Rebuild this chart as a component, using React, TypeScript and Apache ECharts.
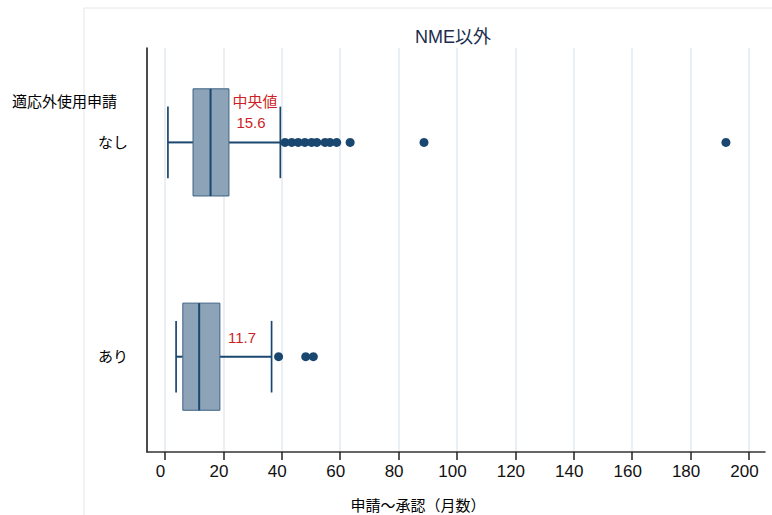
import React, { useEffect, useRef } from "react";
import * as echarts from "echarts";

const categories = ["あり", "なし"];
const lowWhisker = [3.8, 1.0];
const q1 = [6.1, 9.6];
const medians = [11.7, 15.6];
const q3 = [18.8, 21.9];
const highWhisker = [36.5, 39.5];
const outliersNashi = [41.1, 43.4, 45.6, 47.9, 50.2, 52.0, 54.8, 56.5, 58.8, 63.4, 88.7, 192.1];
const outliersAri = [38.9, 48.2, 50.8];

const NAVY = "#1a476f";
const FILL = "#8da3b8";
const RED = "#cc1f27";
const FONT = "'Liberation Sans', Arial, 'Noto Sans CJK JP', sans-serif";

export default function App() {
  const ref = useRef<HTMLDivElement>(null);
  useEffect(() => {
    document.body.style.margin = "0";
    const chart = echarts.init(ref.current!, null, { renderer: "svg" });
    const boxData = categories.map((_, i) => [i, lowWhisker[i], q1[i], medians[i], q3[i], highWhisker[i]]);
    const outlierData = [
      ...outliersAri.map((v) => [v, 0]),
      ...outliersNashi.map((v) => [v, 1]),
    ];
    chart.setOption({
      animation: false,
      textStyle: { fontFamily: FONT },
      grid: [
        { left: 165, right: 23, top: 48, bottom: 63 },
        { left: 147, right: 7, top: 35.25, bottom: 51.15 },
        { left: 147, right: 7, top: 48, bottom: 63 },
      ],
      xAxis: [
        {
          gridIndex: 0,
          type: "value",
          min: 0,
          max: 200,
          interval: 20,
          axisLine: { show: false, onZero: false },
          axisTick: { show: true, length: 8, lineStyle: { color: "#222", width: 1.5 } },
          axisLabel: { fontSize: 17, color: "#111", margin: 11, padding: [0, 9, 0, 0], fontFamily: FONT },
          splitLine: { show: true, lineStyle: { color: "#e3eaf0", width: 1.5 } },
        },
        { gridIndex: 1, type: "value", show: false, min: 0, max: 1 },
        {
          gridIndex: 2,
          type: "value",
          min: 0,
          max: 1,
          axisLine: { show: true, onZero: false, lineStyle: { color: "#333", width: 1.5 } },
          axisTick: { show: false },
          axisLabel: { show: false },
          splitLine: { show: false },
        },
      ],
      yAxis: [
        { gridIndex: 0, type: "value", min: -0.4447, max: 1.4405, show: false },
        {
          gridIndex: 1,
          type: "category",
          data: categories,
          axisLine: { show: false },
          axisTick: { show: false },
          axisLabel: { margin: 19, fontSize: 15, color: "#000", fontFamily: FONT },
          splitLine: { show: false },
        },
        {
          gridIndex: 2,
          type: "value",
          min: 0,
          max: 1,
          axisLine: { show: true, onZero: false, lineStyle: { color: "#111", width: 1.5 } },
          axisTick: { show: false },
          axisLabel: { show: false },
          splitLine: { show: false },
        },
      ],
      graphic: [
        {
          type: "rect",
          silent: true,
          shape: { x: 84, y: 8, width: 720, height: 540 },
          style: { fill: "none", stroke: "#e6e6e6", lineWidth: 1 },
          z: -10,
        },
        {
          type: "text",
          x: 453,
          y: 37,
          style: { text: "NME以外", fontSize: 18, fill: "#1c2d4d", align: "center", verticalAlign: "middle", fontFamily: FONT },
        },
        {
          type: "text",
          x: 12,
          y: 101,
          style: { text: "適応外使用申請", fontSize: 15, fill: "#000", align: "left", verticalAlign: "middle", fontFamily: FONT },
        },
        {
          type: "text",
          x: 418,
          y: 505,
          style: { text: "申請～承認（月数）", fontSize: 15, fill: "#000", align: "center", verticalAlign: "middle", fontFamily: FONT },
        },
        {
          type: "text",
          x: 255,
          y: 101,
          style: { text: "中央値", fontSize: 15, fill: RED, align: "center", verticalAlign: "middle", fontFamily: FONT },
        },
        {
          type: "text",
          x: 251,
          y: 122,
          style: { text: String(medians[1]), fontSize: 15, fill: RED, align: "center", verticalAlign: "middle", fontFamily: FONT },
        },
        {
          type: "text",
          x: 242,
          y: 337,
          style: { text: String(medians[0]), fontSize: 15, fill: RED, align: "center", verticalAlign: "middle", fontFamily: FONT },
        },
      ],
      series: [
        {
          type: "custom",
          xAxisIndex: 0,
          yAxisIndex: 0,
          data: boxData,
          renderItem: (params: any, api: any) => {
            const c = api.value(0);
            const lo = api.coord([api.value(1), c]);
            const a = api.coord([api.value(2), c]);
            const m = api.coord([api.value(3), c]);
            const b = api.coord([api.value(4), c]);
            const hi = api.coord([api.value(5), c]);
            const unit = Math.abs(api.coord([0, c + 1])[1] - lo[1]);
            const bh = unit * 0.25;
            const ch = unit * 0.167;
            const y = lo[1];
            return {
              type: "group",
              children: [
                { type: "line", shape: { x1: lo[0], y1: y, x2: a[0], y2: y }, style: { stroke: NAVY, lineWidth: 2 } },
                { type: "line", shape: { x1: b[0], y1: y, x2: hi[0], y2: y }, style: { stroke: NAVY, lineWidth: 2 } },
                { type: "line", shape: { x1: lo[0], y1: y - ch, x2: lo[0], y2: y + ch }, style: { stroke: NAVY, lineWidth: 1.7 } },
                { type: "line", shape: { x1: hi[0], y1: y - ch, x2: hi[0], y2: y + ch }, style: { stroke: NAVY, lineWidth: 1.7 } },
                {
                  type: "rect",
                  shape: { x: a[0], y: y - bh, width: b[0] - a[0], height: 2 * bh },
                  style: { fill: FILL, stroke: "#3d6285", lineWidth: 1 },
                },
                { type: "line", shape: { x1: m[0], y1: y - bh, x2: m[0], y2: y + bh }, style: { stroke: NAVY, lineWidth: 2 } },
              ],
            };
          },
        },
        {
          type: "scatter",
          xAxisIndex: 0,
          yAxisIndex: 0,
          symbolSize: 9,
          itemStyle: { color: NAVY, opacity: 1 },
          data: outlierData,
        },
      ],
    });
    return () => chart.dispose();
  }, []);
  return <div ref={ref} style={{ width: 772, height: 515 }} />;
}
